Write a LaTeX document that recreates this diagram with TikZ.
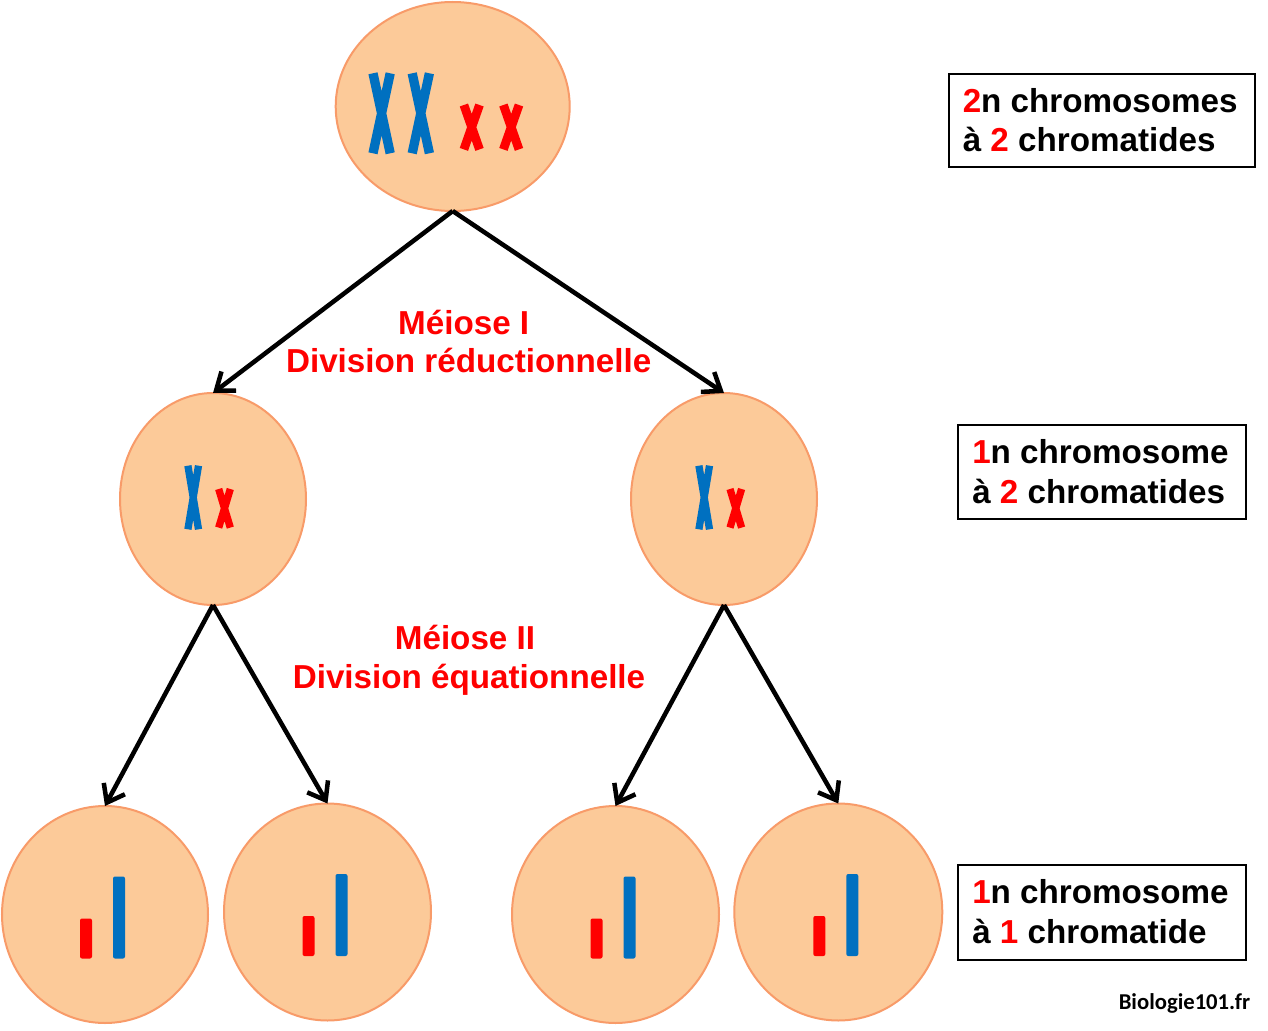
\documentclass[tikz,border=0pt]{standalone}
\usepackage{fontspec}
\setmainfont{Liberation Sans}
\newfontfamily\calibfont{Carlito}
\usetikzlibrary{shapes.geometric,arrows.meta}
\newdimen\px \px=0.75pt
\definecolor{cellfill}{RGB}{252,202,153}
\definecolor{celldraw}{RGB}{248,155,105}
\definecolor{chblue}{RGB}{0,112,192}
\definecolor{chred}{RGB}{255,0,0}
% X-shaped chromosome: centre x, centre y, half dx, half dy, stroke width (px), colour
\newcommand\xchrom[6]{%
  \draw[#6, line width=#5\px, line cap=butt] (#1-#3,#2-#4) -- (#1+#3,#2+#4) (#1+#3,#2-#4) -- (#1-#3,#2+#4);}
% single-chromatid bars relative to cell centre
\newcommand\chrbars[2]{%
  \fill[chred, rounded corners=1.5pt] (#1-25,#2+4) rectangle (#1-13,#2+44);
  \fill[chblue, rounded corners=1.5pt] (#1+8,#2-38) rectangle (#1+20,#2+44);}
\begin{document}
\begin{tikzpicture}[x=0.75pt,y=-0.75pt,
  cell/.style={ellipse, fill=cellfill, draw=celldraw, line width=2\px, inner sep=0pt, outer sep=0pt},
  arr/.style={line width=3.4pt, -{Straight Barb[length=12pt,width=18pt]}},
  lbl/.style={font=\bfseries\fontsize{24.9}{30}\selectfont, inner sep=0pt, text=chred, anchor=base},
  txt/.style={font=\bfseries\fontsize{24.9}{30}\selectfont, inner sep=0pt, anchor=base west},
  infobox/.style={draw=black, line width=2\px, inner sep=0pt, outer sep=0pt, anchor=north west}]
\fill[white] (0,0) rectangle (1268,1031);
\useasboundingbox (0,0) rectangle (1268,1031);

% cells
\node[cell, minimum width=234\px, minimum height=209\px] (top) at (452.7,106.5) {};
\node[cell, minimum width=186\px, minimum height=212\px] (ml) at (213,499) {};
\node[cell, minimum width=186\px, minimum height=212\px] (mr) at (724,499) {};
\node[cell, minimum width=206\px, minimum height=217\px] (b1) at (105,914.5) {};
\node[cell, minimum width=207\px, minimum height=217\px] (b2) at (327.5,912) {};
\node[cell, minimum width=207\px, minimum height=217\px] (b3) at (615.5,914.5) {};
\node[cell, minimum width=208\px, minimum height=217\px] (b4) at (838.3,912) {};

% chromosomes in top cell
\xchrom{381.6}{113.3}{8.6}{40}{9.3}{chblue}
\xchrom{420.8}{113.3}{8.6}{40}{9.3}{chblue}
\xchrom{471.7}{127.2}{7.8}{22.2}{8.8}{chred}
\xchrom{511.2}{127.2}{7.8}{22.2}{8.8}{chred}
% middle cells
\xchrom{193.2}{497.5}{5.3}{31.8}{7.3}{chblue}
\xchrom{224.5}{508.3}{5.8}{19.3}{7.3}{chred}
\xchrom{704.2}{497.5}{5.3}{31.8}{7.3}{chblue}
\xchrom{735.8}{508.3}{5.8}{19.3}{7.3}{chred}
% bottom cells
\chrbars{105}{914.5}
\chrbars{327.5}{912}
\chrbars{615.5}{914.5}
\chrbars{838.3}{912}

% arrows
\draw[arr] (top.south) -- (ml.north);
\draw[arr] (top.south) -- (mr.north);
\draw[arr] (ml.south) -- (b1.north);
\draw[arr] (ml.south) -- (b2.north);
\draw[arr] (mr.south) -- (b3.north);
\draw[arr] (mr.south) -- (b4.north);

% division labels
\node[lbl] (m1) at (463.7,334) {Méiose I};
\node[lbl] (d1) at (468.7,372.7) {Division réductionnelle};
\node[lbl] (m2) at (465,649) {Méiose II};
\node[lbl] (d2) at (469,688.5) {Division équationnelle};

% info boxes
\node[infobox, minimum width=305.7\px, minimum height=93.6\px] (r1) at (949.3,73.7) {};
\node[txt] (r1a) at (962.5,112.7) {\textcolor{chred}{2}n chromosomes};
\node[txt] (r1b) at (962.5,151.9) {à \textcolor{chred}{2} chromatides};

\node[infobox, minimum width=288\px, minimum height=93.4\px] (r2) at (957.7,425.3) {};
\node[txt] (r2a) at (972,463.6) {\textcolor{chred}{1}n chromosome};
\node[txt] (r2b) at (972,503.6) {à \textcolor{chred}{2} chromatides};

\node[infobox, minimum width=288\px, minimum height=94.7\px] (r3) at (957.7,865.3) {};
\node[txt] (r3a) at (972,903.6) {\textcolor{chred}{1}n chromosome};
\node[txt] (r3b) at (972,943.6) {à \textcolor{chred}{1} chromatide};

% credit
\node[font=\calibfont\bfseries\fontsize{17}{20}\selectfont, inner sep=0pt, anchor=base west] (credit) at (1118.5,1009.3) {Biologie101.fr};
\end{tikzpicture}
\end{document}
